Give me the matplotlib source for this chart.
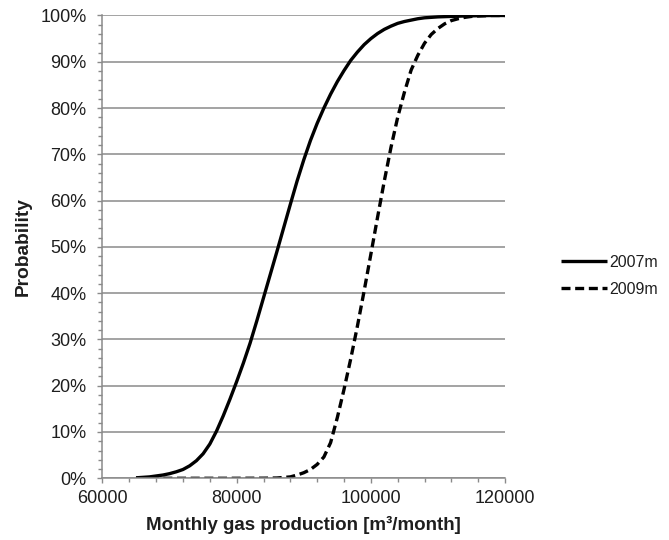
import matplotlib
matplotlib.use("Agg")
import matplotlib.pyplot as plt
from matplotlib.ticker import MultipleLocator, FuncFormatter

plt.rcParams['font.family'] = ['Liberation Sans', 'DejaVu Sans']

# Cumulative probability of monthly gas production
x_2007 = [65000, 66000, 67000, 68000, 69000, 70000, 71000, 72000, 73000, 74000,
          75000, 76000, 77000, 78000, 79000, 80000, 81000, 82000, 83000, 84000,
          85000, 86000, 87000, 88000, 89000, 90000, 91000, 92000, 93000, 94000,
          95000, 96000, 97000, 98000, 99000, 100000, 101000, 102000, 103000,
          104000, 105000, 106000, 107000, 108000, 110000, 112000, 114000,
          116000, 118000, 120000]
p_2007 = [0.001, 0.002, 0.003, 0.005, 0.007, 0.010, 0.014, 0.019, 0.027, 0.038,
          0.053, 0.074, 0.102, 0.135, 0.171, 0.209, 0.249, 0.292, 0.340, 0.390,
          0.440, 0.490, 0.541, 0.592, 0.642, 0.688, 0.730, 0.767, 0.800, 0.830,
          0.857, 0.881, 0.903, 0.921, 0.937, 0.950, 0.961, 0.970, 0.977,
          0.983, 0.987, 0.990, 0.993, 0.995, 0.997, 0.998, 0.999,
          0.9995, 1.0, 1.0]

x_2009 = [65000, 70000, 75000, 80000, 84000, 86000, 88000, 89000, 90000, 91000,
          92000, 93000, 94000, 95000, 96000, 97000, 98000, 99000, 100000, 101000,
          102000, 103000, 104000, 105000, 106000, 107000, 108000, 109000, 110000,
          111000, 112000, 113000, 114000, 115000, 116000, 118000, 120000]
p_2009 = [0.0, 0.0, 0.0, 0.0, 0.0002, 0.0006, 0.003, 0.007, 0.012, 0.019,
          0.030, 0.046, 0.077, 0.131, 0.192, 0.258, 0.329, 0.405, 0.484, 0.564,
          0.642, 0.715, 0.780, 0.834, 0.882, 0.914, 0.940, 0.959, 0.972,
          0.982, 0.989, 0.993, 0.996, 0.998, 0.999, 1.0, 1.0]

series_labels = ['2007m', '2009m']

GRID = '#8a8a8a'
TEXT = '#1e1e1e'

fig = plt.figure(figsize=(6.69, 5.40), dpi=100)
ax = fig.add_axes([0.1532, 0.1143, 0.6017, 0.857])

ax.plot(x_2007, p_2007, color='black', lw=2.4, solid_capstyle='butt',
        solid_joinstyle='round', label=series_labels[0])
ax.plot(x_2009, p_2009, color='black', lw=2.4, dashes=(2.7, 1.4),
        dash_capstyle='butt', label=series_labels[1])

ax.set_xlim(60000, 120000)
ax.set_ylim(0, 1)

ax.xaxis.set_major_locator(MultipleLocator(20000))
ax.xaxis.set_minor_locator(MultipleLocator(4000))
ax.yaxis.set_major_locator(MultipleLocator(0.1))
ax.yaxis.set_minor_locator(MultipleLocator(0.02))
ax.yaxis.set_major_formatter(FuncFormatter(lambda v, _: f"{v * 100:.0f}%"))

ax.grid(axis='y', which='major', color=GRID, lw=1.1)
ax.set_axisbelow(True)

for side in ('top', 'right'):
    ax.spines[side].set_visible(False)
for side in ('left', 'bottom'):
    ax.spines[side].set_color(GRID)
    ax.spines[side].set_linewidth(1.1)

ax.tick_params(axis='both', which='major', direction='out', length=3.6,
               width=1.0, color=GRID, labelsize=13, labelcolor=TEXT)
ax.tick_params(axis='both', which='minor', direction='out', length=2.8,
               width=1.0, color=GRID)
ax.tick_params(axis='y', which='major', pad=8)
ax.tick_params(axis='x', which='major', pad=5)

ax.set_xlabel('Monthly gas production [m³/month]', fontsize=13.5,
              fontweight='bold', color=TEXT, labelpad=6)
ax.set_ylabel('Probability', fontsize=13.8, fontweight='bold', color=TEXT,
              labelpad=6)

leg = ax.legend(loc='center left', bbox_to_anchor=(1.122, 0.437),
                frameon=False, fontsize=11.5, handlelength=2.9,
                handletextpad=0.15, labelspacing=0.75, borderaxespad=0)
for t in leg.get_texts():
    t.set_color(TEXT)

fig.savefig('out.png', dpi=100)
